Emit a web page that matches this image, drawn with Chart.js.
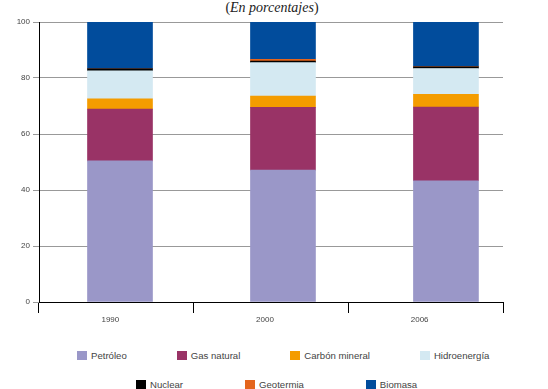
<!DOCTYPE html>
<html>
<head>
<meta charset="utf-8">
<script src="https://cdn.jsdelivr.net/npm/chart.js@4/dist/chart.umd.min.js"></script>
<style>
  body { margin: 0; background: #fff; width: 548px; height: 389px; overflow: hidden; position: relative; font-family: "Liberation Sans", Arial, sans-serif; }
  #title { position: absolute; top: 0px; left: 0; width: 544px; text-align: center; font-family: "Liberation Serif", "Times New Roman", serif; font-size: 14px; color: #222; }
  #wrap { position: absolute; left: 0; top: 0; width: 548px; height: 332px; }
  .row { position: absolute; display: flex; font-size: 9.6px; color: #444; white-space: nowrap; }
  .item { display: flex; align-items: center; }
  .box { width: 10px; height: 9px; margin-right: 4px; }
</style>
</head>
<body>
<div id="title">(<i>En porcentajes</i>)</div>
<div id="wrap"><canvas id="myChart"></canvas></div>
<div class="row" id="row1" style="top:350px; left:77px"></div>
<div class="row" id="row2" style="top:379px; left:136px"></div>
<script>
const anios = ['1990', '2000', '2006'];
const fuentes = ['Petróleo', 'Gas natural', 'Carbón mineral', 'Hidroenergía', 'Nuclear', 'Geotermia', 'Biomasa'];
const petroleo = [50.4, 47.1, 43.3];
const gasNatural = [18.5, 22.4, 26.3];
const carbon = [3.7, 4.0, 4.6];
const hidro = [10.0, 12.0, 9.2];
const nuclear = [0.7, 0.5, 0.6];
const geotermia = [0.0, 0.7, 0.1];
const biomasa = [16.7, 13.3, 15.9];
const yTicks = [0, 20, 40, 60, 80, 100];
const colores = ['#9a97c8', '#993366', '#f49c00', '#d4e9f2', '#000000', '#e4651c', '#014c9c'];

const valores = [petroleo, gasNatural, carbon, hidro, nuclear, geotermia, biomasa];

const ctx = document.getElementById('myChart');
const myChart = new Chart(ctx, {
  type: 'bar',
  data: {
    labels: anios,
    datasets: fuentes.map((f, i) => ({
      label: f,
      data: valores[i].map((v, j) => ({ x: j, y: v })),
      backgroundColor: colores[i],
      borderWidth: 0,
      barThickness: 65,
      xAxisID: 'xb'
    }))
  },
  options: {
    responsive: true,
    maintainAspectRatio: false,
    animation: false,
    layout: { padding: { top: 22, right: 45, left: 0, bottom: 0 } },
    plugins: { legend: { display: false }, tooltip: { enabled: false } },
    scales: {
      // eje oculto para colocar las barras
      xb: {
        type: 'linear',
        display: false,
        stacked: true,
        offset: false,
        min: -0.497,
        max: 2.35
      },
      x: {
        type: 'category',
        labels: anios,
        offset: true,
        afterFit: s => { s.height = 30; },
        grid: { offset: true, drawOnChartArea: false, drawTicks: true, tickLength: 11, color: '#000' },
        border: { color: '#000', width: 1 },
        ticks: { color: '#444', font: { size: 8, family: 'Liberation Sans' }, padding: 2, labelOffset: -6 }
      },
      y: {
        stacked: true,
        min: 0,
        max: 100,
        afterFit: s => { s.width = 39; },
        afterBuildTicks: s => { s.ticks = yTicks.map(v => ({ value: v })); },
        grid: { color: '#999', tickLength: 6 },
        border: { color: '#000', width: 1 },
        ticks: { color: '#444', font: { size: 8, family: 'Liberation Sans' }, padding: 3 }
      }
    }
  }
});

// leyenda en dos filas
const filas = [document.getElementById('row1'), document.getElementById('row2')];
fuentes.forEach((f, i) => {
  const fila = i < 4 ? filas[0] : filas[1];
  const it = document.createElement('div');
  it.className = 'item';
  it.style.marginRight = (i < 4 ? 50 : 62) + 'px';
  it.innerHTML = '<span class="box" style="background:' + colores[i] + '"></span>' + f;
  fila.appendChild(it);
});
</script>
</body>
</html>
